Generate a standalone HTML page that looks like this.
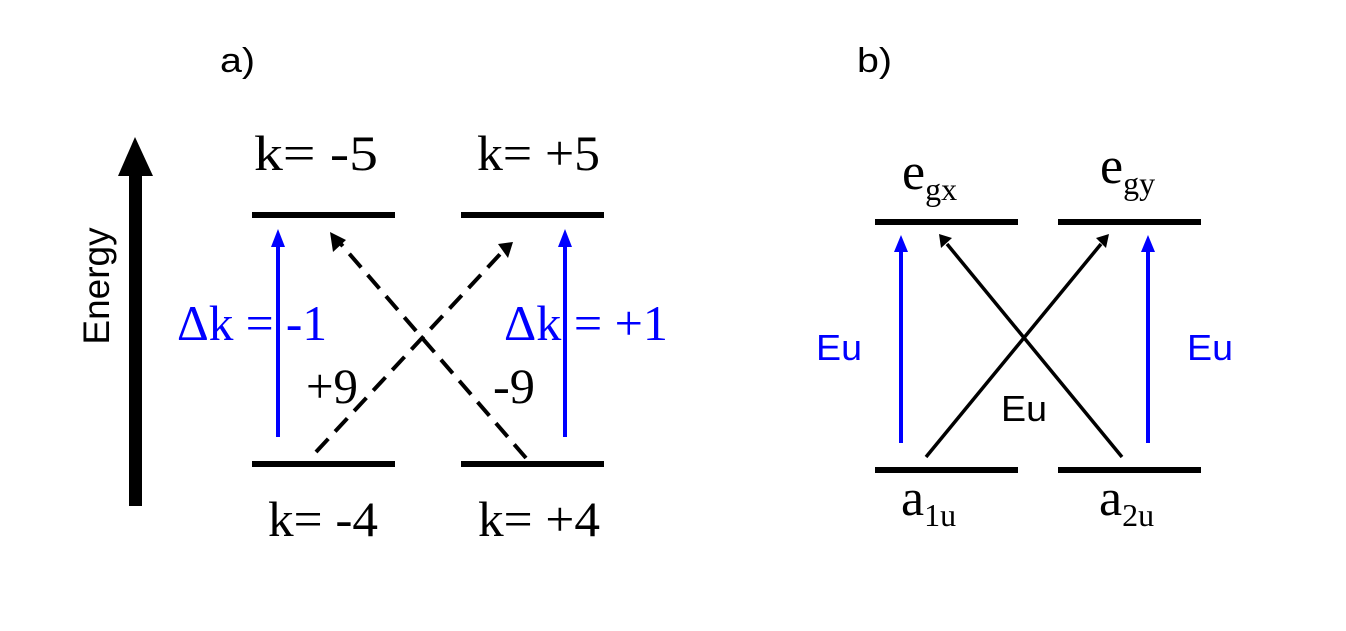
<!DOCTYPE html>
<html><head><style>body{margin:0;background:#fff}svg{display:block}</style></head><body>
<svg width="1346" height="631" viewBox="0 0 1346 631" xmlns="http://www.w3.org/2000/svg">
<g font-family="Liberation Sans, sans-serif" font-size="34">
<text x="220" y="72" textLength="35" lengthAdjust="spacingAndGlyphs">a)</text>
<text x="857" y="72" textLength="35" lengthAdjust="spacingAndGlyphs">b)</text>
<text transform="translate(109,286) rotate(-90)" text-anchor="middle" font-size="37">Energy</text>
</g>
<rect x="129" y="172" width="13" height="334" fill="#000"/>
<path d="M118,176 L135,137 L153,176 z" fill="#000"/>
<g stroke="#000" stroke-width="6">
<line x1="252" y1="215" x2="395" y2="215"/><line x1="461" y1="215" x2="604" y2="215"/>
<line x1="252" y1="464" x2="395" y2="464"/><line x1="461" y1="464" x2="604" y2="464"/>
</g>
<g stroke="#00f" stroke-width="4">
<line x1="278" y1="437" x2="278" y2="245"/><line x1="565" y1="437" x2="565" y2="245"/>
</g>
<path d="M271,247 L278,229 L285,247 z M558,247 L565,229 L572,247 z" fill="#00f"/>
<g stroke="#000" stroke-width="4" stroke-dasharray="18,10" fill="none">
<line x1="316" y1="452" x2="503" y2="251"/>
<line x1="526" y1="458" x2="340" y2="243"/>
</g>
<path d="M498,244 L513,242 L508,258 z M333,252 L330,232 L346,240 z" fill="#000"/>
<g font-family="Liberation Serif, serif" font-size="50" lengthAdjust="spacingAndGlyphs">
<text x="254" y="170" textLength="124" lengthAdjust="spacingAndGlyphs">k= -5</text>
<text x="477" y="170" textLength="123" lengthAdjust="spacingAndGlyphs">k= +5</text>
<text x="268" y="536" textLength="110" lengthAdjust="spacingAndGlyphs">k= -4</text>
<text x="478" y="536" textLength="122" lengthAdjust="spacingAndGlyphs">k= +4</text>
<text x="306" y="403" textLength="52" lengthAdjust="spacingAndGlyphs">+9</text>
<text x="493" y="403" textLength="42" lengthAdjust="spacingAndGlyphs">-9</text>
<g fill="#00f"><text x="177" y="340" textLength="150" lengthAdjust="spacingAndGlyphs">Δk = -1</text><text x="504" y="340" textLength="164" lengthAdjust="spacingAndGlyphs">Δk = +1</text></g>
</g>
<g stroke="#000" stroke-width="6">
<line x1="875" y1="222" x2="1018" y2="222"/><line x1="1058" y1="222" x2="1201" y2="222"/>
<line x1="875" y1="470" x2="1018" y2="470"/><line x1="1058" y1="470" x2="1201" y2="470"/>
</g>
<g stroke="#00f" stroke-width="4">
<line x1="901" y1="443" x2="901" y2="250"/><line x1="1148" y1="443" x2="1148" y2="250"/>
</g>
<path d="M894,252 L901,235 L908,252 z M1141,252 L1148,235 L1155,252 z" fill="#00f"/>
<g stroke="#000" stroke-width="3.5">
<line x1="926" y1="457" x2="1101" y2="244"/>
<line x1="1122" y1="457" x2="947" y2="244"/>
</g>
<path d="M1096,238 L1109,234 L1106,248 z M941,248 L939,234 L952,238 z" fill="#000"/>
<g font-family="Liberation Sans, sans-serif" font-size="36">
<text x="816" y="360" fill="#00f" textLength="46" lengthAdjust="spacingAndGlyphs">Eu</text>
<text x="1187" y="360" fill="#00f" textLength="46" lengthAdjust="spacingAndGlyphs">Eu</text>
<text x="1001" y="421" textLength="46" lengthAdjust="spacingAndGlyphs">Eu</text>
</g>
<g font-family="Liberation Serif, serif" font-size="52">
<text x="902" y="189">e<tspan font-size="32" dy="11">gx</tspan></text>
<text x="1100" y="183">e<tspan font-size="32" dy="11">gy</tspan></text>
<text x="901" y="515">a<tspan font-size="32" dy="11">1u</tspan></text>
<text x="1099" y="515">a<tspan font-size="32" dy="11">2u</tspan></text>
</g>
</svg>
</body></html>
